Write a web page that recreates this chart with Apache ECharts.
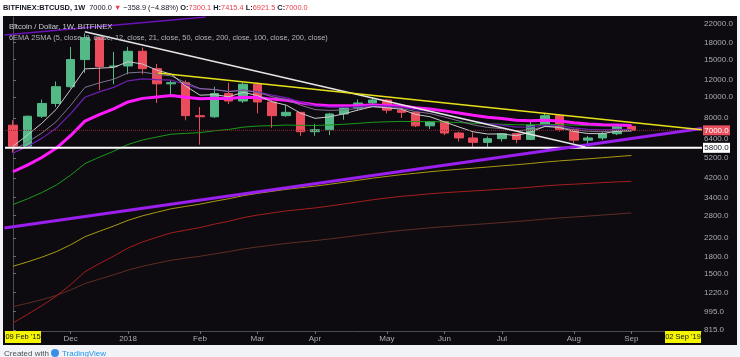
<!DOCTYPE html>
<html><head><meta charset="utf-8">
<script src="https://cdn.jsdelivr.net/npm/echarts@6/dist/echarts.min.js"></script>
<style>html,body{margin:0;padding:0;background:#f1f3f6;}#c{width:740px;height:357px;}</style>
</head><body><div id="c"></div>
<script>
// x = week index (0 = week of 06 Nov 2017, 43 = week of 03 Sep 2018)
const monthTicks = [4, 8, 13, 17, 21, 26, 30, 34, 39, 43];
const monthLabels = ['Dec', '2018', 'Feb', 'Mar', 'Apr', 'May', 'Jun', 'Jul', 'Aug', 'Sep'];
const priceTicks = [815, 995, 1220, 1500, 1800, 2200, 2800, 3400, 4200, 5200, 6400, 8000, 10000, 12000, 15000, 18000, 22000];

const open  = [7400, 5900, 8150, 9350, 11200, 15000, 19000, 13900, 14000, 16400, 13600, 11550, 11700, 8200, 8100, 10400, 9600, 11500, 9500, 8200, 8500, 6900, 7050, 8350, 8900, 9400, 9700, 8700, 8500, 7350, 7700, 6800, 6450, 6150, 6400, 6750, 6350, 7400, 8200, 7050, 6300, 6450, 6750, 7300.1];
const close = [5900, 8150, 9350, 11200, 15000, 19000, 13900, 14000, 16400, 13600, 11550, 11700, 8200, 8100, 10400, 9600, 11500, 9500, 8200, 8500, 6900, 7050, 8350, 8900, 9400, 9700, 8700, 8500, 7350, 7700, 6800, 6450, 6150, 6400, 6750, 6350, 7400, 8200, 7050, 6300, 6450, 6750, 7300, 7000];
const high  = [7800, 8200, 9750, 11850, 17200, 19900, 19100, 16300, 17200, 17100, 14300, 12000, 12000, 9000, 11200, 11700, 11700, 11700, 9900, 9200, 8500, 7500, 8450, 9000, 9750, 9950, 9800, 8900, 8500, 7750, 7750, 6900, 6850, 6550, 6800, 6800, 7700, 8450, 8300, 7150, 6600, 6900, 7350, 7415.4];
const low   = [5500, 5800, 8000, 9000, 11000, 13000, 10800, 11500, 12800, 12800, 9400, 10100, 7800, 6000, 8000, 9300, 9400, 8400, 7200, 8100, 6600, 6600, 6650, 7850, 8700, 9100, 8400, 8000, 7250, 7100, 6650, 6200, 5800, 5800, 6200, 6100, 6300, 7400, 6900, 6100, 5900, 6300, 6650, 6921.5];

const ema5   = [5900, 6650, 7550, 8767, 10845, 13563, 13676, 13783, 14656, 14304, 13386, 12824, 11282, 10222, 10283, 10055, 10537, 10191, 9527, 9185, 8423, 7965, 8093, 8362, 8708, 9039, 8926, 8784, 8306, 8104, 7669, 7263, 6892, 6728, 6735, 6607, 6871, 7314, 7226, 6917, 6761, 6757, 6938, 6959];
const ema9   = [5660, 6158, 6796, 7677, 9142, 11113, 11670, 12136, 12989, 13111, 12799, 12579, 11703, 10983, 10866, 10613, 10790, 10532, 10066, 9753, 9182, 8756, 8675, 8720, 8856, 9025, 8960, 8868, 8564, 8391, 8073, 7748, 7428, 7223, 7128, 6972, 7058, 7286, 7239, 7051, 6931, 6895, 6976, 6981];
const ema12  = [5477, 5888, 6420, 7155, 8362, 9998, 10598, 11121, 11933, 12189, 12091, 12031, 11442, 10928, 10847, 10655, 10785, 10587, 10220, 9955, 9485, 9111, 8994, 8980, 9045, 9146, 9078, 8989, 8737, 8577, 8304, 8018, 7731, 7526, 7407, 7245, 7269, 7412, 7356, 7194, 7080, 7029, 7071, 7060];
const ema21  = [4482, 4815, 5227, 5770, 6609, 7735, 8295, 8814, 9504, 9876, 10028, 10180, 10000, 9827, 9879, 9854, 10004, 9958, 9798, 9680, 9427, 9211, 9133, 9112, 9139, 9190, 9145, 9087, 8929, 8817, 8634, 8436, 8228, 8062, 7943, 7798, 7762, 7802, 7734, 7604, 7499, 7431, 7419, 7381];
const ema50  = [3150, 3346, 3581, 3880, 4316, 4892, 5245, 5588, 6012, 6309, 6514, 6717, 6775, 6827, 6967, 7070, 7244, 7332, 7366, 7410, 7390, 7377, 7415, 7473, 7549, 7633, 7675, 7707, 7693, 7693, 7658, 7611, 7554, 7509, 7479, 7435, 7434, 7464, 7448, 7403, 7366, 7342, 7340, 7327];
const sma100 = [1620, 1697, 1786, 1894, 2040, 2226, 2361, 2497, 2657, 2788, 2898, 3009, 3086, 3162, 3261, 3352, 3462, 3552, 3629, 3709, 3773, 3838, 3916, 4000, 4089, 4181, 4263, 4343, 4411, 4482, 4544, 4602, 4657, 4715, 4776, 4833, 4900, 4975, 5038, 5094, 5152, 5213, 5279, 5342];
const ema200 = [880, 964, 1059, 1173, 1328, 1527, 1667, 1807, 1972, 2104, 2213, 2321, 2390, 2457, 2549, 2631, 2733, 2811, 2875, 2941, 2988, 3036, 3099, 3167, 3240, 3315, 3379, 3439, 3486, 3536, 3576, 3612, 3644, 3679, 3717, 3751, 3796, 3850, 3890, 3921, 3953, 3989, 4020, 4045];
const sma200 = [1050, 1087, 1130, 1183, 1254, 1345, 1410, 1477, 1555, 1620, 1674, 1729, 1767, 1804, 1852, 1897, 1951, 1995, 2033, 2072, 2104, 2136, 2174, 2215, 2259, 2304, 2344, 2383, 2416, 2451, 2481, 2510, 2537, 2565, 2595, 2623, 2656, 2693, 2725, 2753, 2782, 2812, 2845, 2876];

// drawn trend lines: [week index, price] end points
const whiteTrend   = [[5, 20250], [39.8, 5850]];
const yellowTrend  = [[10.1, 12980], [47.9, 7050]];
const purpleTrend  = [[-0.6, 2444], [47.9, 7139]];
const purpleUpper  = [[-0.6, 19540], [13.4, 23700]];
const supportLevel = 5800;
const lastPrice = 7000;

const chart = echarts.init(document.getElementById('c'));
const FONT = 'Liberation Sans, Arial, sans-serif';
function lineSeries(name, arr, color, width, z) {
  return { name, type: 'line', data: arr.map((v, i) => [i, v]), symbol: 'none', z: z || 3,
    lineStyle: { color, width }, silent: true, animation: false };
}
function segSeries(name, pts, color, width, type, z) {
  return { name, type: 'line', data: pts, symbol: 'none', z: z || 4,
    lineStyle: { color, width, type: type || 'solid' }, silent: true, animation: false };
}
const xMin = -0.556, xMax = 47.91;
chart.setOption({
  animation: false,
  backgroundColor: '#f1f3f6',
  grid: { left: 5, right: 38, top: 17, bottom: 26, outerBoundsMode: 'none', containLabel: false },
  xAxis: {
    type: 'value', min: xMin, max: xMax,
    axisLine: { show: true, lineStyle: { color: '#4a4e59' } },
    axisTick: { show: true, length: 3, lineStyle: { color: '#6a6e78' }, customValues: monthTicks },
    axisLabel: { color: '#a8abb2', fontSize: 8, fontFamily: FONT, margin: 4, customValues: monthTicks,
      formatter: v => { const k = monthTicks.indexOf(Math.round(v)); return k >= 0 ? monthLabels[k] : ''; } },
    splitLine: { show: false }
  },
  yAxis: {
    type: 'log', position: 'right', min: 807, max: 23720,
    axisLine: { show: true, lineStyle: { color: '#4a4e59' } },
    axisTick: { show: true, length: 3, lineStyle: { color: '#6a6e78' }, customValues: priceTicks },
    axisLabel: { color: '#a8abb2', fontSize: 8, fontFamily: FONT, margin: 2, customValues: priceTicks,
      formatter: v => Number(v).toFixed(1) },
    splitLine: { show: false }
  },
  series: [
    { name: 'BTCUSD', type: 'candlestick', z: 2, barWidth: 9, silent: true,
      data: open.map((o, i) => [i, o, close[i], low[i], high[i]]),
      itemStyle: { color: '#53b987', color0: '#eb4d5c', borderColor: '#53b987', borderColor0: '#eb4d5c', borderWidth: 1 } },
    segSeries('support', [[xMin, supportLevel], [xMax, supportLevel]], '#ffffff', 2),
    segSeries('last', [[xMin, lastPrice], [xMax, lastPrice]], '#8c2a36', 1, [1, 1]),
    lineSeries('SMA200', sma200, '#5e2c24', 1),
    lineSeries('EMA200', ema200, '#a41e1e', 1),
    lineSeries('SMA100', sma100, '#a89a12', 1),
    lineSeries('EMA50', ema50, '#1a9a1a', 1),
    lineSeries('EMA21', ema21, '#ff1aff', 3),
    lineSeries('EMA12', ema12, '#6d1fb0', 1.2),
    lineSeries('EMA9', ema9, '#7f7390', 1),
    lineSeries('EMA5', ema5, '#c9c9cc', 1),
    segSeries('trendPurple', purpleTrend, '#9b1fef', 3),
    segSeries('trendPurpleUp', purpleUpper, '#6a12b8', 1.5),
    segSeries('trendWhite', whiteTrend, '#e6e6e6', 1.5),
    segSeries('trendYellow', yellowTrend, '#e6e21a', 1.5)
  ]
});

const yLast = chart.convertToPixel({ yAxisIndex: 0 }, lastPrice);
const ySup = chart.convertToPixel({ yAxisIndex: 0 }, supportLevel);
chart.setOption({
  graphic: [
    { type: 'rect', z: -100, silent: true, shape: { x: 0, y: 0, width: 740, height: 16 }, style: { fill: '#ffffff' } },
    { type: 'rect', z: -100, silent: true, shape: { x: 3, y: 16, width: 734, height: 329 }, style: { fill: '#0e0b10' } },
    { type: 'text', z: 100, x: 3, y: 8, silent: true, style: {
      text: '{b|BITFINEX:BTCUSD, 1W}  {n|7000.0} {r|▼} {n|−358.9 (−4.88%)} {b|O:}{r|7300.1} {b|H:}{r|7415.4} {b|L:}{r|6921.5} {b|C:}{r|7000.0}',
      verticalAlign: 'middle', font: '7.4px ' + FONT,
      rich: { b: { fontSize: 7.4, fontWeight: 'bold', fill: '#131722', fontFamily: FONT },
              n: { fontSize: 7.4, fill: '#131722', fontFamily: FONT },
              r: { fontSize: 7.4, fill: '#e8404f', fontFamily: FONT } } } },
    { type: 'text', z: 100, x: 9, y: 27, silent: true, style: { text: 'Bitcoin / Dollar, 1W, BITFINEX', fill: '#c9ccd2', font: '7.7px ' + FONT, verticalAlign: 'middle' } },
    { type: 'text', z: 100, x: 9, y: 38, silent: true, style: { text: '6EMA 2SMA (5, close, 9, close, 12, close, 21, close, 50, close, 200, close, 100, close, 200, close)', fill: '#b3b6bc', font: '7.4px ' + FONT, verticalAlign: 'middle' } },
    { type: 'rect', z: 100, silent: true, shape: { x: 703, y: yLast - 5, width: 27, height: 10 }, style: { fill: '#e8505e' } },
    { type: 'text', z: 101, x: 716.5, y: yLast, silent: true, style: { text: '7000.0', fill: '#ffffff', font: '8px ' + FONT, align: 'center', verticalAlign: 'middle' } },
    { type: 'rect', z: 100, silent: true, shape: { x: 703, y: ySup - 5, width: 27, height: 10 }, style: { fill: '#ffffff' } },
    { type: 'text', z: 101, x: 716.5, y: ySup, silent: true, style: { text: '5800.0', fill: '#131722', font: '8px ' + FONT, align: 'center', verticalAlign: 'middle' } },
    { type: 'rect', z: 100, silent: true, shape: { x: 5, y: 331, width: 36, height: 12 }, style: { fill: '#f5f500' } },
    { type: 'text', z: 101, x: 23, y: 337, silent: true, style: { text: "09 Feb '15", fill: '#131722', font: '7.5px ' + FONT, align: 'center', verticalAlign: 'middle' } },
    { type: 'rect', z: 100, silent: true, shape: { x: 665, y: 331, width: 36, height: 12 }, style: { fill: '#f5f500' } },
    { type: 'text', z: 101, x: 683, y: 337, silent: true, style: { text: "02 Sep '19", fill: '#131722', font: '7.5px ' + FONT, align: 'center', verticalAlign: 'middle' } },
    { type: 'text', z: 100, x: 4, y: 350, silent: true, style: { text: 'Created with', fill: '#4a4e59', font: '8px ' + FONT, verticalAlign: 'top' } },
    { type: 'circle', z: 100, silent: true, shape: { cx: 55, cy: 353, r: 4 }, style: { fill: '#3a8ee6' } },
    { type: 'text', z: 100, x: 62, y: 350, silent: true, style: { text: 'TradingView', fill: '#2196f3', font: '8px ' + FONT, verticalAlign: 'top' } }
  ]
});
</script></body></html>
